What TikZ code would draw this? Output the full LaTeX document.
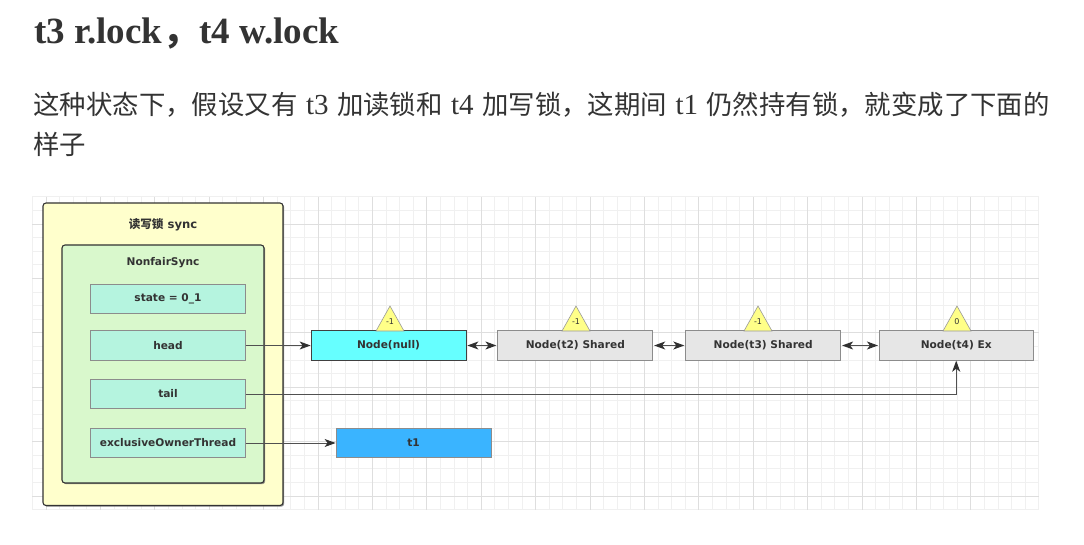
\documentclass[tikz,border=0pt]{standalone}
\usepackage{fontspec}
\setmainfont{Liberation Serif}
\newfontfamily\cjk{Noto Sans CJK SC}
\newfontfamily\dv{DejaVu Sans}
\usetikzlibrary{arrows.meta,calc,shadows}
\definecolor{txt}{HTML}{333333}
\definecolor{gridfine}{HTML}{F0F0F0}
\definecolor{gridmajor}{HTML}{DEDEDE}
\definecolor{outerfill}{HTML}{FFFFCC}
\definecolor{innerfill}{HTML}{D9F8CC}
\definecolor{fieldfill}{HTML}{B5F4DF}
\definecolor{nullfill}{HTML}{66FFFF}
\definecolor{grayfill}{HTML}{E6E6E6}
\definecolor{tonefill}{HTML}{3AB4FF}
\definecolor{trifill}{HTML}{FFFF88}
\definecolor{linec}{HTML}{505050}
\definecolor{tipc}{HTML}{303030}
\newcommand\latseg[1]{\hspace{8.5pt}{\rmfamily\fontsize{29}{30}\selectfont #1}\hspace{8.5pt}}
\tikzset{
  dfont/.style={font=\dv\bfseries\fontsize{10.6}{12}\selectfont, text=txt},
  container/.style={draw=black!80, line width=1.1pt, rounded corners=3pt, inner sep=0pt,
     drop shadow={shadow xshift=1.2pt, shadow yshift=-1.2pt, fill=black!60, opacity=0.7}},
  outerbox/.style={container, fill=outerfill, minimum width=240pt, minimum height=302.5pt},
  innerbox/.style={container, fill=innerfill, minimum width=202pt, minimum height=238pt},
  field/.style={draw=black!45, line width=0.8pt, fill=fieldfill, inner sep=0pt,
     minimum width=154.6pt, minimum height=29.5pt, dfont},
  qnode/.style={draw=black!45, line width=0.8pt, fill=grayfill, inner sep=0pt,
     minimum width=155pt, minimum height=29.6pt, dfont},
  lbl/.style={inner sep=0pt, dfont},
  tri/.style={draw=black!40, line width=0.6pt, fill=trifill},
  trilbl/.style={inner sep=0pt, font=\dv\fontsize{8}{9}\selectfont, text=txt},
  conn/.style={draw=linec, line width=1pt, -{Stealth[length=11pt,width=8pt,inset=3pt,color=tipc]}},
  dconn/.style={draw=linec, line width=1pt, {Stealth[length=11pt,width=8pt,inset=3pt,color=tipc]}-{Stealth[length=11pt,width=8pt,inset=3pt,color=tipc]}, shorten <=1pt, shorten >=1pt},
}
\begin{document}
\begin{tikzpicture}[x=1pt,y=-1pt]
\useasboundingbox (0,0) rectangle (1084,545);
\fill[white] (0,0) rectangle (1084,545);
% heading and paragraph
\node[anchor=base west, inner sep=0pt, font=\bfseries\fontsize{37}{40}\selectfont, text=txt] (title) at (34,43.3)
  {t3 r.lock{\cjk\bfseries ，}t4 w.lock};
\node[anchor=base west, inner sep=0pt, font=\cjk\fontsize{26.4}{30}\selectfont, text=txt] (p1) at (33.3,115)
  {这种状态下，假设又有\latseg{t3}加读锁和\latseg{t4}加写锁，这期间\latseg{t1}仍然持有锁，就变成了下面的};
\node[anchor=base west, inner sep=0pt, font=\cjk\fontsize{26.4}{30}\selectfont, text=txt] (p2) at (33.3,155) {样子};
% grid
\foreach \i in {0,...,74} \draw[gridfine, line width=0.8pt] ({32.4+13.6*\i},196.8) -- ({32.4+13.6*\i},509.6);
\foreach \j in {0,...,23} \draw[gridfine, line width=0.8pt] (32.4,{196.8+13.6*\j}) -- (1039,{196.8+13.6*\j});
\foreach \i in {0,...,17} \draw[gridmajor, line width=0.8pt] ({46+54.4*\i},196.8) -- ({46+54.4*\i},509.6);
\foreach \j in {0,...,5} \draw[gridmajor, line width=0.8pt] (32.4,{224+54.4*\j}) -- (1039,{224+54.4*\j});
% containers
\node[outerbox] (sync) at (163,354.25) {};
\node[lbl, font=\dv\bfseries\fontsize{11.6}{13}\selectfont] (synclbl) at (163,225) {{\cjk\bfseries 读写锁} sync};
\node[innerbox] (nfs) at (163,364) {};
\node[lbl] (nfslbl) at (163,263) {NonfairSync};
\node[field] (state) at (168,299) {state = 0\_1};
\node[field] (head) at (168,345.5) {head};
\node[field] (tail) at (168,394) {tail};
\node[field] (excl) at (168,443) {exclusiveOwnerThread};
% queue
\node[qnode, fill=nullfill, draw=black!75] (nnull) at (388.5,345.5) {Node(null)};
\node[qnode] (nt2) at (575.3,345.5) {Node(t2) Shared};
\node[qnode] (nt3) at (763.2,345.5) {Node(t3) Shared};
\node[qnode, minimum width=153.7pt] (nt4) at (956.2,345.5) {Node(t4) Ex};
\node[qnode, fill=tonefill] (t1) at (413.5,443) {t1};
% wait-status triangles
\draw[tri] (376,331) -- (390,306) -- (404,331) -- cycle;
\node[trilbl] (w1) at (390,322) {-1};
\draw[tri] (562,331) -- (576,306) -- (590,331) -- cycle;
\node[trilbl] (w2) at (576,322) {-1};
\draw[tri] (744,331) -- (758,306) -- (772,331) -- cycle;
\node[trilbl] (w3) at (758,322) {-1};
\draw[tri] (943,331) -- (957,306) -- (971,331) -- cycle;
\node[trilbl] (w4) at (957,322) {0};
% connectors
\draw[conn] (head.east) -- (nnull.west);
\draw[dconn] (nnull.east) -- (nt2.west);
\draw[dconn] (nt2.east) -- (nt3.west);
\draw[dconn] (nt3.east) -- (nt4.west);
\draw[conn] (tail.east) -| (nt4.south);
\draw[conn] (excl.east) -- (t1.west);
\end{tikzpicture}
\end{document}
